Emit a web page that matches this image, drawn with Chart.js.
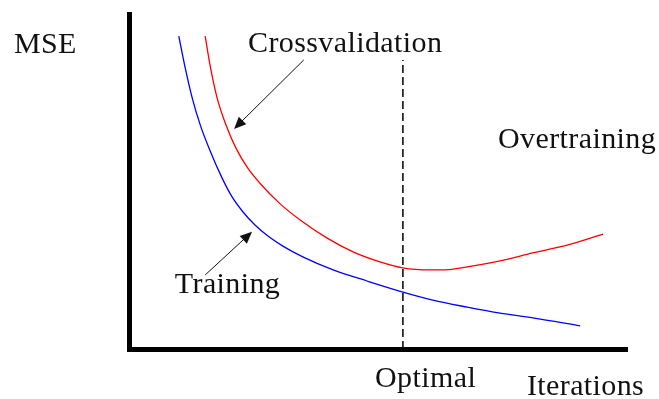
<!DOCTYPE html>
<html>
<head>
<meta charset="utf-8">
<script src="https://cdn.jsdelivr.net/npm/chart.js@4/dist/chart.umd.min.js"></script>
<style>
    html, body { margin:0; padding:0; background:#fff; }
    #box { width:659px; height:399px; }
</style>
</head>
<body>
<div id="box"><canvas id="grafico"></canvas></div>
<script>
// curvas (x = iteracoes, y = MSE, escala 0..100)
var treinoX = [10.0, 11.2, 12.7, 14.3, 16.3, 18.7, 20.7, 22.9, 25.3, 27.9, 30.9, 34.9, 41.0, 47.8, 55.0, 61.0, 67.9, 74.5, 81.1, 90.6];
var treinoY = [93.4, 84.5, 74.9, 66.9, 59.1, 51.0, 45.4, 40.9, 37.0, 33.7, 30.7, 27.5, 23.6, 20.3, 17.0, 14.6, 12.5, 10.7, 9.3, 6.9];

var validX = [15.3, 16.3, 17.7, 19.5, 21.5, 23.9, 26.7, 30.3, 34.3, 39.8, 45.0, 50.4, 55.0, 60.4, 63.5, 67.9, 74.5, 81.1, 88.0, 95.2];
var validY = [93.4, 84.5, 74.9, 66.8, 59.9, 53.9, 48.8, 43.4, 38.6, 33.1, 29.0, 26.0, 24.2, 23.6, 23.6, 24.5, 26.3, 28.7, 31.0, 34.3];

var otimoX = 55.0;
var otimoTopo = 86.3;

// textos e setas
var textos = [
    {t:'MSE', x:-23.1, y:88.4},
    {t:'Crossvalidation', x:23.9, y:88.7},
    {t:'Overtraining', x:74.1, y:60.0},
    {t:'Training', x:9.2, y:16.7},
    {t:'Optimal', x:49.4, y:-11.3},
    {t:'Iterations', x:79.9, y:-13.7}
];
var setas = [
    {x1:35.1, y1:86.3, x2:21.1, y2:65.7},
    {x1:15.3, y1:22.1, x2:24.7, y2:35.0}
];

function pontos(xs, ys) {
    var p = [];
    for (var i = 0; i < xs.length; i++) p.push({x:xs[i], y:ys[i]});
    return p;
}

var anotacoes = {
    id:'anotacoes',
    afterDatasetsDraw:function(chart){
        var ctx = chart.ctx;
        var sx = chart.scales.x, sy = chart.scales.y;
        ctx.save();
        ctx.fillStyle = '#111';
        ctx.strokeStyle = '#111';
        ctx.font = '30px "Liberation Serif", "Times New Roman", serif';
        ctx.letterSpacing = '0.4px';
        ctx.textBaseline = 'alphabetic';
        ctx.textAlign = 'left';
        textos.forEach(function(a){
            ctx.fillText(a.t, sx.getPixelForValue(a.x), sy.getPixelForValue(a.y));
        });
        setas.forEach(function(s){
            var x1 = sx.getPixelForValue(s.x1), y1 = sy.getPixelForValue(s.y1);
            var x2 = sx.getPixelForValue(s.x2), y2 = sy.getPixelForValue(s.y2);
            var ang = Math.atan2(y2 - y1, x2 - x1);
            var len = 13, abre = 0.42;
            ctx.lineWidth = 1;
            ctx.beginPath();
            ctx.moveTo(x1, y1);
            ctx.lineTo(x2 - Math.cos(ang) * len * 0.8, y2 - Math.sin(ang) * len * 0.8);
            ctx.stroke();
            ctx.beginPath();
            ctx.moveTo(x2, y2);
            ctx.lineTo(x2 - len * Math.cos(ang - abre), y2 - len * Math.sin(ang - abre));
            ctx.lineTo(x2 - len * Math.cos(ang + abre), y2 - len * Math.sin(ang + abre));
            ctx.closePath();
            ctx.fill();
        });
        ctx.restore();
    }
};

window.onload = function(){
    var contexto = document.getElementById('grafico').getContext('2d');
    var grafico = new Chart(contexto, {
        type:'line',
        data:{
            datasets:[{
                label:'Training',
                data:pontos(treinoX, treinoY),
                borderColor:'#0000ff',
                borderWidth:1.3,
                pointRadius:0,
                cubicInterpolationMode:'monotone',
                fill:false
            }, {
                label:'Crossvalidation',
                data:pontos(validX, validY),
                borderColor:'#ff0000',
                borderWidth:1.3,
                pointRadius:0,
                cubicInterpolationMode:'monotone',
                fill:false
            }, {
                label:'Optimal',
                data:[{x:otimoX, y:0}, {x:otimoX, y:otimoTopo}],
                borderColor:'#000',
                borderWidth:1.5,
                borderDash:[8, 4],
                pointRadius:0,
                fill:false
            }]
        },
        options:{
            responsive:true,
            maintainAspectRatio:false,
            animation:false,
            layout:{padding:{left:129, top:14, right:32, bottom:50}},
            plugins:{legend:{display:false}, tooltip:{enabled:false}},
            scales:{
                x:{
                    type:'linear', min:0, max:100,
                    grid:{display:false, drawTicks:false},
                    ticks:{display:false},
                    border:{display:true, color:'#000', width:5}
                },
                y:{
                    type:'linear', min:0, max:100,
                    grid:{display:false, drawTicks:false},
                    ticks:{display:false},
                    border:{display:true, color:'#000', width:5}
                }
            }
        },
        plugins:[anotacoes]
    });
};
</script>
</body>
</html>
